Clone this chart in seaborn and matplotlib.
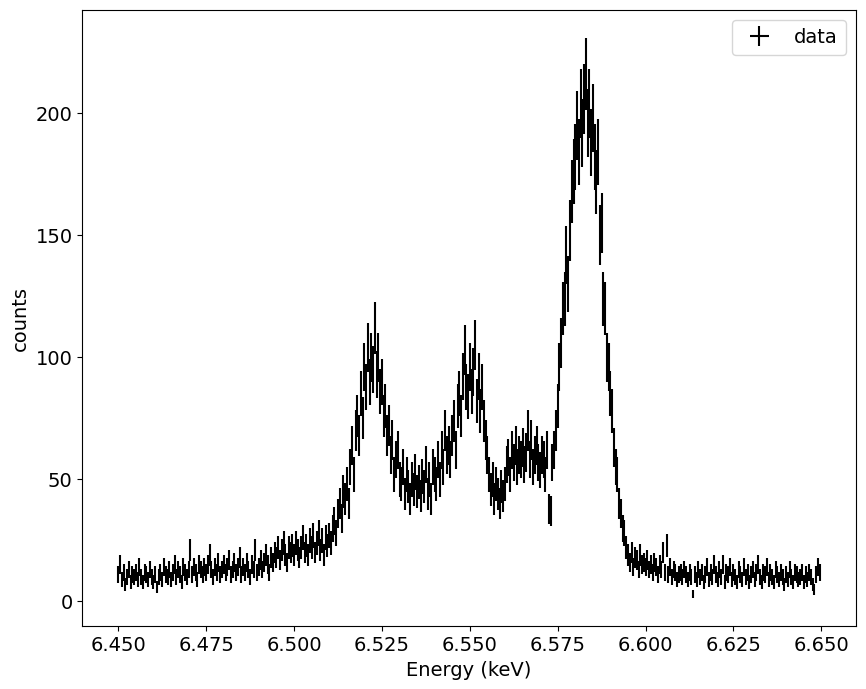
import numpy as np
import pandas as pd
import matplotlib
matplotlib.use("Agg")
import matplotlib.pyplot as plt
import seaborn as sns

# Bin setup: 0.5 eV bins from 6.450 keV
e_start = 6.450
bin_width = 0.0005

counts_6450 = [11, 15, 9, 12, 7, 10, 13, 8, 11, 10]
counts_6455 = [12, 9, 14, 10, 8, 12, 11, 9, 13, 10]
counts_6460 = [8, 11, 6, 10, 12, 9, 14, 11, 10, 13]
counts_6465 = [9, 12, 15, 10, 13, 11, 8, 14, 12, 10]
counts_6470 = [13, 21, 11, 14, 12, 9, 15, 13, 11, 14]
counts_6475 = [12, 15, 19, 13, 10, 14, 12, 16, 11, 13]
counts_6480 = [15, 12, 14, 17, 11, 13, 16, 12, 14, 18]
counts_6485 = [11, 14, 12, 16, 13, 10, 15, 13, 21, 12]
counts_6490 = [14, 17, 13, 16, 19, 15, 12, 18, 16, 20]
counts_6495 = [18, 22, 17, 21, 24, 19, 16, 22, 20, 23]
counts_6500 = [19, 24, 21, 18, 22, 26, 20, 23, 19, 25]
counts_6505 = [22, 27, 20, 24, 28, 21, 25, 19, 26, 23]
counts_6510 = [27, 24, 30, 33, 28, 36, 40, 34, 45, 42]
counts_6515 = [48, 40, 55, 64, 52, 70, 76, 68, 85, 75]
counts_6520 = [96, 88, 104, 90, 100, 95, 112, 93, 100, 86]
counts_6525 = [90, 76, 80, 68, 72, 60, 66, 52, 58, 62]
counts_6530 = [50, 48, 55, 44, 52, 47, 42, 50, 46, 53]
counts_6535 = [45, 49, 43, 51, 47, 56, 44, 50, 42, 55]
counts_6540 = [52, 48, 58, 50, 62, 55, 70, 60, 64, 58]
counts_6545 = [68, 74, 62, 80, 85, 76, 92, 103, 88, 84]
counts_6550 = [96, 86, 94, 105, 82, 92, 78, 88, 74, 66]
counts_6555 = [60, 52, 46, 50, 42, 48, 44, 40, 47, 43]
counts_6560 = [48, 56, 59, 52, 62, 57, 64, 55, 60, 58]
counts_6565 = [63, 56, 61, 70, 58, 66, 55, 60, 64, 57]
counts_6570 = [54, 60, 58, 52, 62, 38, 37, 57, 62, 70]
counts_6575 = [80, 96, 106, 120, 124, 142, 130, 152, 168, 176]
counts_6580 = [182, 195, 184, 204, 192, 206, 216, 196, 204, 188]
counts_6585 = [198, 182, 172, 184, 150, 155, 124, 120, 100, 96]
counts_6590 = [85, 78, 63, 55, 52, 40, 36, 30, 28, 22]
counts_6595 = [19, 16, 20, 14, 18, 17, 13, 19, 15, 16]
counts_6600 = [14, 17, 13, 15, 12, 16, 14, 11, 15, 13]
counts_6605 = [20, 12, 23, 11, 14, 10, 13, 12, 9, 11]
counts_6610 = [12, 10, 13, 11, 9, 12, 10, 3, 11, 9]
counts_6615 = [13, 10, 12, 8, 11, 14, 9, 12, 10, 15]
counts_6620 = [11, 9, 13, 10, 15, 8, 12, 11, 14, 9]
counts_6625 = [12, 10, 8, 13, 11, 9, 14, 10, 12, 8]
counts_6630 = [11, 13, 9, 12, 15, 10, 8, 12, 11, 14]
counts_6635 = [9, 12, 10, 8, 13, 11, 9, 12, 10, 7]
counts_6640 = [11, 9, 13, 10, 8, 12, 11, 9, 10, 12]
counts_6645 = [8, 11, 9, 12, 10, 7, 5, 11, 14, 12]

segments = [counts_6450, counts_6455, counts_6460, counts_6465, counts_6470,
            counts_6475, counts_6480, counts_6485, counts_6490, counts_6495,
            counts_6500, counts_6505, counts_6510, counts_6515, counts_6520,
            counts_6525, counts_6530, counts_6535, counts_6540, counts_6545,
            counts_6550, counts_6555, counts_6560, counts_6565, counts_6570,
            counts_6575, counts_6580, counts_6585, counts_6590, counts_6595,
            counts_6600, counts_6605, counts_6610, counts_6615, counts_6620,
            counts_6625, counts_6630, counts_6635, counts_6640, counts_6645]

counts = np.concatenate([np.array(s, dtype=float) for s in segments])
energy = e_start + bin_width * np.arange(len(counts))
df = pd.DataFrame({"energy": energy, "counts": counts,
                   "err": np.sqrt(counts)})

sns.set_theme(style="ticks", rc={
    "axes.edgecolor": "black", "axes.labelcolor": "black",
    "xtick.color": "black", "ytick.color": "black", "text.color": "black",
    "font.size": 14, "axes.labelsize": 14, "xtick.labelsize": 14,
    "ytick.labelsize": 14, "legend.fontsize": 14,
    "axes.linewidth": 0.8, "xtick.major.width": 0.8, "ytick.major.width": 0.8,
    "xtick.major.size": 3.5, "ytick.major.size": 3.5,
})
plt.rcParams["font.family"] = ["DejaVu Sans"]

fig, ax = plt.subplots(figsize=(8.66, 6.89), dpi=100)
ax.errorbar(df["energy"], df["counts"], xerr=bin_width / 2, yerr=df["err"],
            fmt="none", ecolor="black", elinewidth=1.5, label="data")
ax.set_xlabel("Energy (keV)")
ax.set_ylabel("counts")
ax.legend(loc="upper right")
ax.xaxis.set_major_formatter(matplotlib.ticker.FormatStrFormatter("%.3f"))
fig.subplots_adjust(left=0.095, right=0.988, top=0.985, bottom=0.091)
fig.savefig("out.png", dpi=100)
